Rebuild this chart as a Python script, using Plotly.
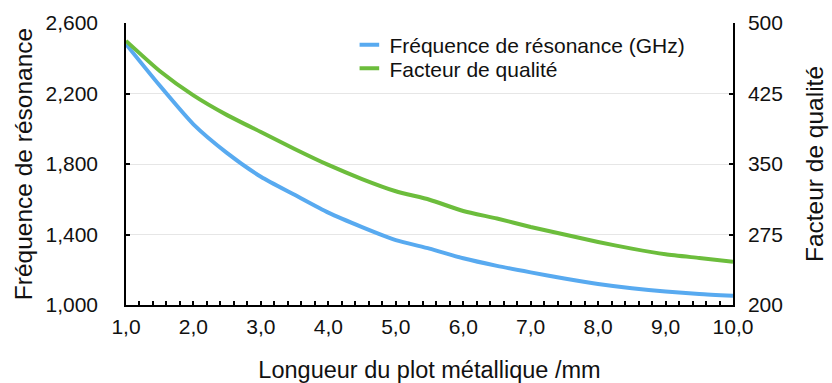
import plotly.graph_objects as go

# Longueur du plot métallique (mm)
longueur = [1.0, 1.5, 2.0, 2.5, 3.0, 3.5, 4.0, 4.5, 5.0, 5.5,
            6.0, 6.5, 7.0, 7.5, 8.0, 8.5, 9.0, 9.5, 10.0]
# Fréquence de résonance (axe gauche)
frequence = [2480, 2245, 2025, 1862, 1728, 1625, 1524, 1442, 1368, 1320,
             1265, 1222, 1185, 1150, 1119, 1095, 1077, 1062, 1052]
# Facteur de qualité (axe droit)
qualite = [481, 449, 423, 402, 384, 366, 349, 334, 321, 312,
           300, 292, 283, 275, 267, 260, 254, 250, 246]

x_ticks = [1, 2, 3, 4, 5, 6, 7, 8, 9, 10]
x_labels = ["1,0", "2,0", "3,0", "4,0", "5,0", "6,0", "7,0", "8,0", "9,0", "10,0"]
y1_ticks = [1000, 1400, 1800, 2200, 2600]
y2_ticks = [200, 275, 350, 425, 500]

BLUE = "#58AAF0"
GREEN = "#6CBD3C"
FONT = "Liberation Sans, Arial, sans-serif"

fig = go.Figure()
fig.add_trace(go.Scatter(x=longueur, y=frequence, mode="lines",
                         line=dict(color=BLUE, width=4, shape="spline", smoothing=0.6),
                         showlegend=False))
fig.add_trace(go.Scatter(x=longueur, y=qualite, mode="lines", yaxis="y2",
                         line=dict(color=GREEN, width=4, shape="spline", smoothing=0.6),
                         showlegend=False))

# legend entries drawn with short dashes, one legend box per row
for name, col, leg in [("Fréquence de résonance (GHz)", BLUE, "legend"),
                       ("Facteur de qualité", GREEN, "legend2")]:
    fig.add_trace(go.Scatter(x=[None], y=[None], mode="markers", name=name,
                             legend=leg,
                             marker=dict(symbol="line-ew", size=14,
                                         line=dict(color=col, width=4))))

legend_style = dict(x=0.368, xanchor="left", yanchor="middle",
                    bgcolor="rgba(255,255,255,0)", font=dict(size=21))

fig.update_layout(
    width=832, height=383,
    margin=dict(l=126, r=99, t=23, b=78, autoexpand=False),
    paper_bgcolor="white", plot_bgcolor="white",
    font=dict(family=FONT, size=21, color="#111111"),
    legend=dict(y=0.922, **legend_style),
    legend2=dict(y=0.838, **legend_style),
    xaxis=dict(
        range=[1, 10], tickvals=x_ticks, ticktext=x_labels, automargin=False,
        ticks="inside", ticklen=4, tickwidth=1.5, tickcolor="black",
        minor=dict(dtick=0.2, ticks="inside", ticklen=4, tickwidth=1.5,
                   tickcolor="black", showgrid=False),
        showline=True, linecolor="black", linewidth=1.5,
        showgrid=False, zeroline=False,
        tickfont=dict(size=21), ticklabelstandoff=2,
        title=dict(text="Longueur du plot métallique /mm",
                   font=dict(size=23.5), standoff=29),
    ),
    yaxis=dict(
        range=[1000, 2600], tickvals=y1_ticks, tickformat=",", automargin=False,
        ticks="inside", ticklen=4, tickwidth=1.5, tickcolor="black",
        showline=True, linecolor="black", linewidth=1.5,
        showgrid=True, gridcolor="#E6E6E6", gridwidth=1, zeroline=False,
        tickfont=dict(size=21), ticklabelstandoff=22,
        title=dict(text="Fréquence de résonance", font=dict(size=24.5), standoff=6),
    ),
    yaxis2=dict(
        range=[200, 500], tickvals=y2_ticks, overlaying="y", side="right",
        automargin=False,
        ticks="inside", ticklen=4, tickwidth=1.5, tickcolor="black",
        showline=True, linecolor="black", linewidth=1.5,
        showgrid=False, zeroline=False,
        tickfont=dict(size=21), ticklabelstandoff=9,
        title=dict(text="Facteur de qualité", font=dict(size=24.5), standoff=24),
    ),
)

fig.write_html("out.html")
